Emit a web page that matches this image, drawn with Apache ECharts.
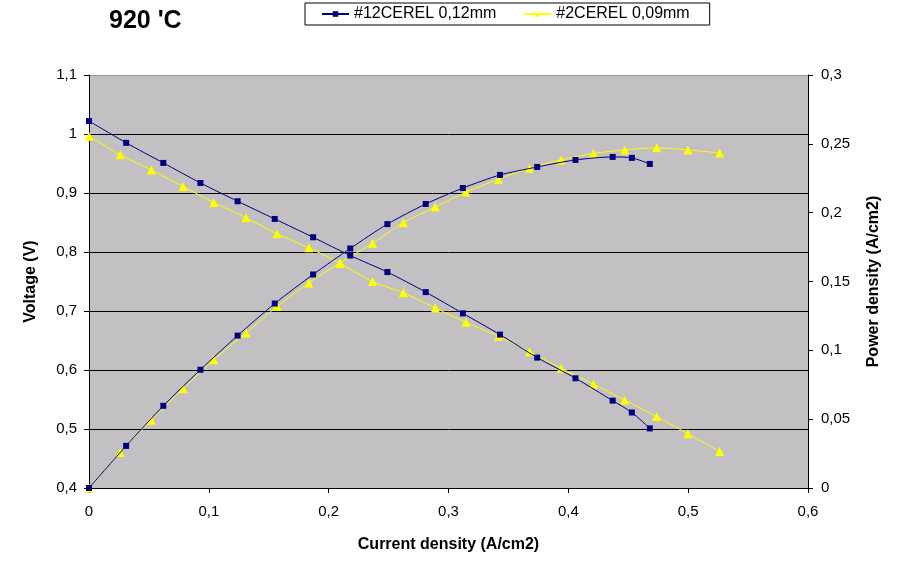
<!DOCTYPE html>
<html>
<head>
<meta charset="utf-8">
<script src="https://cdn.jsdelivr.net/npm/echarts@6/dist/echarts.min.js"></script>
<style>html,body{margin:0;padding:0;background:#fff}#c{width:900px;height:570px}</style>
</head>
<body>
<div id="c"></div>
<script>
var titleText = "920 'C";
var nameA = "#12CEREL 0,12mm";
var nameB = "#2CEREL 0,09mm";
var xTitle = "Current density (A/cm2)";
var yTitle = "Voltage (V)";
var y2Title = "Power density (A/cm2)";

var currentA = [0, 0.031, 0.062, 0.093, 0.124, 0.155, 0.187, 0.218, 0.249, 0.281, 0.312, 0.343, 0.374, 0.406, 0.437, 0.453, 0.468];
var voltageA = [1.022, 0.985, 0.951, 0.917, 0.886, 0.856, 0.825, 0.794, 0.766, 0.732, 0.696, 0.660, 0.621, 0.586, 0.548, 0.528, 0.501];
var powerA = [0, 0.0306, 0.0597, 0.0859, 0.1107, 0.134, 0.1551, 0.174, 0.1917, 0.2063, 0.2179, 0.2274, 0.2332, 0.2383, 0.2405, 0.2398, 0.2354];

var currentB = [0, 0.026, 0.052, 0.0785, 0.104, 0.131, 0.157, 0.1835, 0.2095, 0.2366, 0.2623, 0.289, 0.3146, 0.3417, 0.3676, 0.394, 0.421, 0.447, 0.4737, 0.4998, 0.5263];
var voltageB = [0.996, 0.965, 0.939, 0.911, 0.884, 0.858, 0.831, 0.807, 0.781, 0.750, 0.731, 0.705, 0.681, 0.657, 0.631, 0.603, 0.576, 0.549, 0.521, 0.492, 0.462];
var powerB = [0, 0.0257, 0.0493, 0.0721, 0.0932, 0.1126, 0.132, 0.149, 0.1636, 0.1777, 0.1927, 0.2041, 0.215, 0.2243, 0.2323, 0.2383, 0.243, 0.2456, 0.2471, 0.2456, 0.2434];

function pairs(xs, ys) { return xs.map(function (x, i) { return [x, ys[i]]; }); }
function comma(v) { return String(+v.toFixed(4)).replace('.', ','); }

var FONT = '"Liberation Sans", Arial, sans-serif';
var blue = '#000080', yellow = '#ffff00';

function lineSeries(name, data, yIdx, color, symbol, size) {
  return {
    name: name, type: 'line', yAxisIndex: yIdx, data: data,
    smooth: 0.25, symbol: symbol, symbolSize: size,
    lineStyle: { color: color, width: 1 },
    itemStyle: { color: color },
    z: color === blue ? 3 : 2
  };
}

var chart = echarts.init(document.getElementById('c'), null, { renderer: 'canvas' });
chart.setOption({
  animation: false,
  backgroundColor: '#ffffff',
  textStyle: { fontFamily: FONT },
  title: {
    text: titleText, left: 104, top: 4,
    textStyle: { fontFamily: FONT, fontSize: 25, fontWeight: 'bold', color: '#000' }
  },
  legend: {
    data: [nameA, nameB],
    left: 305, top: 3,
    padding: [3, 20, 3, 16],
    itemGap: 27, itemWidth: 27, itemHeight: 7,
    borderColor: '#000', borderWidth: 1, borderRadius: 0,
    textStyle: { fontFamily: FONT, fontSize: 16, color: '#000' }
  },
  grid: {
    left: 89, right: 92, top: 75, bottom: 82,
    show: true, backgroundColor: '#c2c0c2', borderWidth: 0
  },
  xAxis: {
    type: 'value', min: 0, max: 0.6, interval: 0.1,
    name: xTitle, nameLocation: 'middle', nameGap: 49,
    nameTextStyle: { fontFamily: FONT, fontSize: 16, fontWeight: 'bold', color: '#000' },
    axisLine: { show: true, lineStyle: { color: '#000', width: 1 } },
    axisTick: { show: true, length: 5, inside: false, lineStyle: { color: '#000' } },
    axisLabel: { formatter: comma, margin: 16, fontFamily: FONT, fontSize: 15, color: '#000' },
    splitLine: { show: false }
  },
  yAxis: [{
    type: 'value', min: 0.4, max: 1.1, interval: 0.1, position: 'left',
    name: yTitle, nameLocation: 'middle', nameGap: 50,
    nameTextStyle: { fontFamily: FONT, fontSize: 16, fontWeight: 'bold', color: '#000' },
    axisLine: { show: true, lineStyle: { color: '#000', width: 1 } },
    axisTick: { show: true, length: 5, lineStyle: { color: '#000' } },
    axisLabel: { formatter: comma, margin: 12, fontFamily: FONT, fontSize: 15, color: '#000' },
    splitLine: { show: true, lineStyle: { color: ['#000', '#000', '#000', '#000', '#000', '#000', '#000', '#999'], width: 1 } }
  }, {
    type: 'value', min: 0, max: 0.3, interval: 0.05, position: 'right',
    name: y2Title, nameLocation: 'middle', nameGap: 58,
    nameTextStyle: { fontFamily: FONT, fontSize: 16, fontWeight: 'bold', color: '#000' },
    axisLine: { show: true, lineStyle: { color: '#000', width: 1 } },
    axisTick: { show: true, length: 5, lineStyle: { color: '#000' } },
    axisLabel: { formatter: comma, margin: 13, fontFamily: FONT, fontSize: 15, color: '#000' },
    splitLine: { show: false }
  }],
  series: [
    lineSeries(nameB, pairs(currentB, voltageB), 0, yellow, 'triangle', 9),
    lineSeries(nameB, pairs(currentB, powerB), 1, yellow, 'triangle', 9),
    lineSeries(nameA, pairs(currentA, voltageA), 0, blue, 'rect', 6),
    lineSeries(nameA, pairs(currentA, powerA), 1, blue, 'rect', 6)
  ]
});
</script>
</body>
</html>
